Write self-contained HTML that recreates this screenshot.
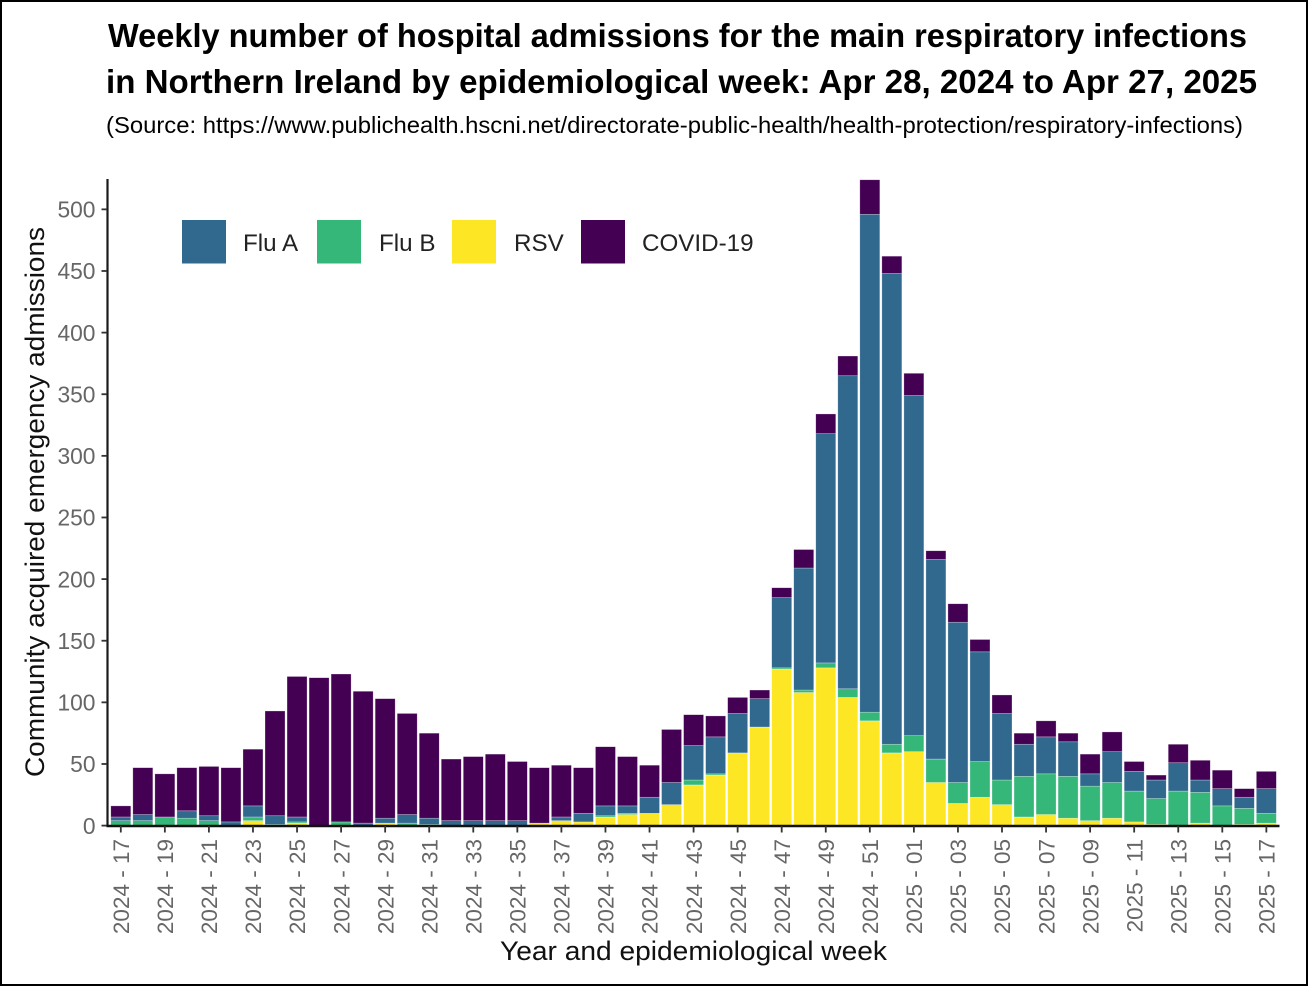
<!DOCTYPE html>
<html lang="en">
<head>
<meta charset="utf-8">
<title>Weekly hospital admissions for respiratory infections in Northern Ireland</title>
<style>
html,body{margin:0;padding:0;background:#fff;width:1308px;height:986px;overflow:hidden}
svg{display:block;font-family:"Liberation Sans",Arial,sans-serif}
</style>
</head>
<body>
<svg id="chart" xmlns="http://www.w3.org/2000/svg" width="1308" height="986" viewBox="0 0 1308 986">
  <rect x="1" y="1" width="1306" height="984" fill="#fff" stroke="#000" stroke-width="2"/>
  <text x="108" y="47" font-size="33" font-weight="700" fill="#000" textLength="1139" lengthAdjust="spacingAndGlyphs">Weekly number of hospital admissions for the main respiratory infections</text>
  <text x="106" y="93" font-size="33" font-weight="700" fill="#000" textLength="1151" lengthAdjust="spacingAndGlyphs">in Northern Ireland by epidemiological week: Apr 28, 2024 to Apr 27, 2025</text>
  <text x="106" y="133" font-size="23" fill="#000" textLength="1137" lengthAdjust="spacingAndGlyphs">(Source: https://www.publichealth.hscni.net/directorate-public-health/health-protection/respiratory-infections)</text>
  <defs>
    <clipPath id="plot-clip"><rect x="107" y="179" width="1173" height="648"/></clipPath>
  </defs>
  <g id="bars" clip-path="url(#plot-clip)"></g>
  <g id="y-axis"></g>
  <g id="x-axis"></g>
  <text transform="translate(44,502) rotate(-90)" text-anchor="middle" font-size="27" fill="#111" textLength="550" lengthAdjust="spacingAndGlyphs">Community acquired emergency admissions</text>
  <text x="693.5" y="960" text-anchor="middle" font-size="27" fill="#111" textLength="387" lengthAdjust="spacingAndGlyphs">Year and epidemiological week</text>
  <g>
    <g>
      <rect x="182" y="220" width="44" height="43.5" fill="#31688e"/>
      <text x="243" y="251" font-size="24.2" fill="#222">Flu A</text>
    </g>
    <g>
      <rect x="317" y="220" width="44" height="43.5" fill="#35b779"/>
      <text x="379" y="251" font-size="24.2" fill="#222">Flu B</text>
    </g>
    <g>
      <rect x="452" y="220" width="44" height="43.5" fill="#fde725"/>
      <text x="514" y="251" font-size="24.2" fill="#222">RSV</text>
    </g>
    <g>
      <rect x="581" y="220" width="44" height="43.5" fill="#440154"/>
      <text x="642" y="251" font-size="24.2" fill="#222">COVID-19</text>
    </g>
  </g>
</svg>
<script>
const weeks = [
  "2024 - 17","2024 - 18","2024 - 19","2024 - 20","2024 - 21","2024 - 22","2024 - 23","2024 - 24","2024 - 25",
  "2024 - 26","2024 - 27","2024 - 28","2024 - 29","2024 - 30","2024 - 31","2024 - 32","2024 - 33","2024 - 34",
  "2024 - 35","2024 - 36","2024 - 37","2024 - 38","2024 - 39","2024 - 40","2024 - 41","2024 - 42","2024 - 43",
  "2024 - 44","2024 - 45","2024 - 46","2024 - 47","2024 - 48","2024 - 49","2024 - 50","2024 - 51","2024 - 52",
  "2025 - 01","2025 - 02","2025 - 03","2025 - 04","2025 - 05","2025 - 06","2025 - 07","2025 - 08","2025 - 09",
  "2025 - 10","2025 - 11","2025 - 12","2025 - 13","2025 - 14","2025 - 15","2025 - 16","2025 - 17"
];
const rsv = [0,0,0,0,0,0,4,0,2,0,0,0,2,0,0,0,0,0,0,2,4,3,7,9,10,17,33,41,59,80,127,108,128,104,85,59,60,35,18,23,17,7,9,6,4,6,3,1,0,2,0,1,2];
const fluB = [4,4,7,6,4,0,3,1,1,0,3,0,0,2,1,0,0,0,0,0,0,0,1,1,0,0,4,1,0,0,1,2,4,7,7,7,13,19,17,29,20,33,33,34,28,29,25,21,28,25,16,13,8];
const fluA = [3,5,0,6,4,3,9,7,4,0,0,2,4,7,5,4,4,4,4,0,3,7,8,6,13,18,28,30,32,23,57,99,186,254,404,382,276,162,130,89,54,26,30,28,10,25,16,15,23,10,14,9,20];
const covid = [9,38,35,35,40,44,46,85,114,120,120,107,97,82,69,50,52,54,48,45,42,37,48,40,26,43,25,17,13,7,8,15,16,16,28,14,18,7,15,10,15,9,13,7,16,16,8,4,15,16,15,7,14];
const yTicks = [0,50,100,150,200,250,300,350,400,450,500];
const seriesNames = ["rsv","flu-b","flu-a","covid-19"];
const seriesValues = [rsv, fluB, fluA, covid];
const seriesColors = ["#fde725","#35b779","#31688e","#440154"];

const SVG_NS = "http://www.w3.org/2000/svg";
const Y_BASE = 825.6, Y_UNIT = 1.2325, X_FIRST = 120.8, X_STEP = 22.03, BAR_W = 20;
function yScale(v){ return Y_BASE - v * Y_UNIT; }
function xScale(i){ return X_FIRST + i * X_STEP; }

function draw(parent, tag, props){
  const el = document.createElementNS(SVG_NS, tag);
  for (const k in props) el.setAttribute(k, props[k]);
  parent.appendChild(el);
  return el;
}

const barsG = document.getElementById("bars");
weeks.forEach(function(week, i){
  let cum = 0;
  seriesValues.forEach(function(series, s){
    const v = series[i];
    if (v <= 0) return;
    const top = yScale(cum + v), bottom = yScale(cum);
    const r = draw(barsG, "rect", {
      x: xScale(i) - BAR_W / 2, y: top, width: BAR_W, height: bottom - top,
      fill: seriesColors[s], stroke: "rgba(255,255,255,0.45)", "stroke-width": 0.6
    });
    
    
    cum += v;
  });
});

const yG = document.getElementById("y-axis");
const yLine = draw(yG, "line", {x1:107.5, x2:107.5, y1:179, y2:826.5, stroke:"#1a1a1a", "stroke-width":2.2});


yTicks.forEach(function(t){
  const y = yScale(t);
  const mark = draw(yG, "line", {x1:101.5, x2:107, y1:y, y2:y, stroke:"#333", "stroke-width":1.8});
  
  
  const lab = draw(yG, "text", {x:95.5, y:y + 8.2, "text-anchor":"end", "font-size":22.8, fill:"#666"});
  
  
  lab.textContent = t;
});

const xG = document.getElementById("x-axis");
const xLine = draw(xG, "line", {x1:106.5, x2:1279.5, y1:826, y2:826, stroke:"#111", "stroke-width":2.6});


weeks.forEach(function(week, i){
  if (i % 2 !== 0) return;
  const x = xScale(i);
  const mark = draw(xG, "line", {x1:x, x2:x, y1:826, y2:832.5, stroke:"#333", "stroke-width":1.8});
  
  
  const lab = draw(xG, "text", {transform:"translate(" + (x + 8.2) + ",839) rotate(-90)", "text-anchor":"end", "font-size":22.5, fill:"#666"});
  
  
  lab.textContent = week;
});
</script>
</body>
</html>
